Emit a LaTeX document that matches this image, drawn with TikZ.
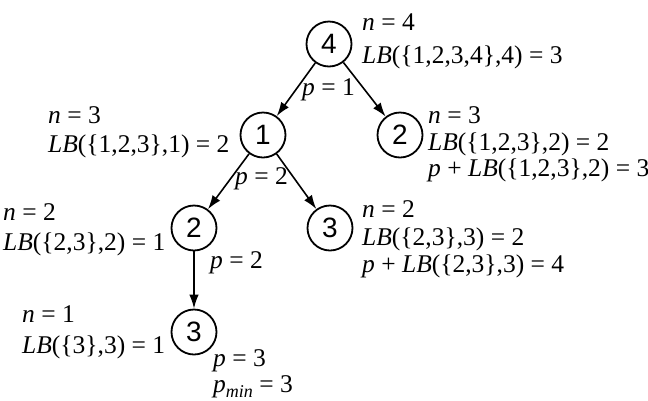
\documentclass[tikz,border=0pt]{standalone}
\usepackage{fontspec}
\setmainfont{Liberation Serif}
\newfontfamily\circfont{Liberation Sans}
\usetikzlibrary{arrows.meta}
\begin{document}
\begin{tikzpicture}[x=1pt,y=-1pt,
  st/.style={circle,draw,line width=1.8pt,minimum size=45pt,inner sep=0pt,font=\circfont\fontsize{28}{28}\selectfont},
  lbl/.style={anchor=base west,inner sep=0pt,font=\fontsize{25.5}{28}\selectfont},
  edge/.style={line width=1.6pt,-{Latex[length=14pt,width=9.5pt]}}]
\useasboundingbox (0,0) rectangle (648,400);
\node[st] (a) at (329,44) {4};
\node[st] (b) at (263,135) {1};
\node[st] (c) at (400,135) {2};
\node[st] (d) at (194,228) {2};
\node[st] (e) at (330,228) {3};
\node[st] (f) at (194,332) {3};
\draw[edge] (a) -- (b);
\draw[edge] (a) -- (c);
\draw[edge] (b) -- (d);
\draw[edge] (b) -- (e);
\draw[edge] (d) -- (f);
% node 4
\node[lbl] (t1) at (362,30) {\textit{n} = 4};
\node[lbl] (t2) at (362,63) {\textit{LB}(\{1,2,3,4\},4) = 3};
\node[lbl] (t3) at (302,95) {\textit{p} = 1};
% node 1
\node[lbl] (t4) at (48,123) {\textit{n} = 3};
\node[lbl] (t5) at (48,152) {\textit{LB}(\{1,2,3\},1) = 2};
\node[lbl] (t6) at (235,184) {\textit{p} = 2};
% node 2 right
\node[lbl] (t7) at (428,123) {\textit{n} = 3};
\node[lbl] (t8) at (428,150) {\textit{LB}(\{1,2,3\},2) = 2};
\node[lbl] (t9) at (428,176) {\textit{p} + \textit{LB}(\{1,2,3\},2) = 3};
% node 2 left
\node[lbl] (t10) at (3,220) {\textit{n} = 2};
\node[lbl] (t11) at (3,250) {\textit{LB}(\{2,3\},2) = 1};
\node[lbl] (t12) at (210,268) {\textit{p} = 2};
% node 3 mid
\node[lbl] (t13) at (362,217) {\textit{n} = 2};
\node[lbl] (t14) at (362,245) {\textit{LB}(\{2,3\},3) = 2};
\node[lbl] (t15) at (362,272) {\textit{p} + \textit{LB}(\{2,3\},3) = 4};
% node 3 bottom
\node[lbl] (t16) at (22,322) {\textit{n} = 1};
\node[lbl] (t17) at (22,353) {\textit{LB}(\{3\},3) = 1};
\node[lbl] (t18) at (213,366) {\textit{p} = 3};
\node[lbl] (t19) at (213,392) {\textit{p}\raisebox{-0.2em}{\fontsize{18}{18}\selectfont\textit{min}} = 3};
\end{tikzpicture}
\end{document}
